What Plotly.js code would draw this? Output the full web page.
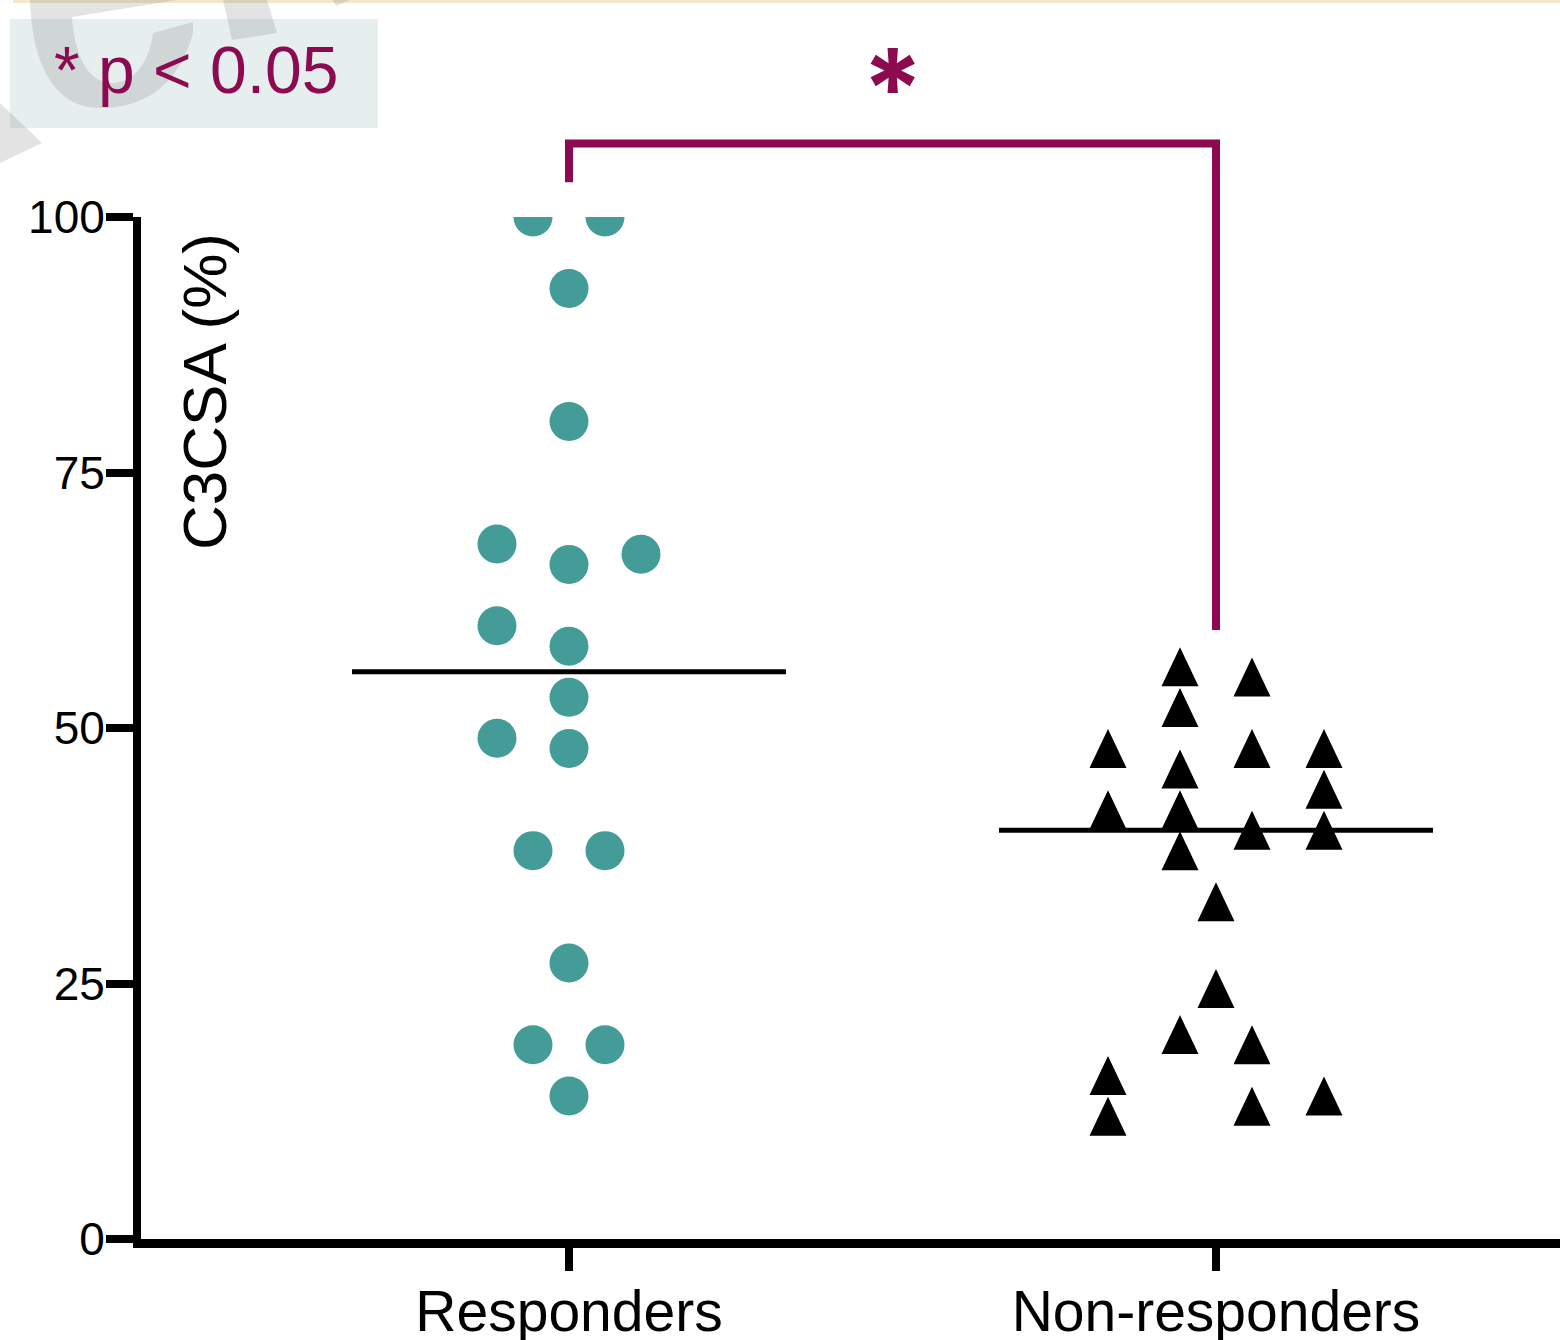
<!DOCTYPE html>
<html>
<head>
<meta charset="utf-8">
<script src="https://cdn.plot.ly/plotly-3.0.1.min.js"></script>
<style>
  html, body { margin: 0; padding: 0; background: #ffffff; }
  #chart { width: 1560px; height: 1340px; }
</style>
</head>
<body>
<div id="chart"></div>
<script>
// Groups on the category axis
const groups = ['Responders', 'Non-responders'];
const groupPos = [1, 2];

// C3CSA (%) per patient
const responders = [100, 100, 93, 80, 68, 66, 67, 60, 58, 53, 49, 48, 38, 38, 27, 19, 19, 14];
const nonResponders = [56, 55, 52, 48, 48, 48, 46, 44, 42, 42, 40, 40, 38, 33, 24.5, 20, 19, 16, 14, 13, 12];

// Column slot of each point inside its group (spread of the dot plot)
const respSlot = [-1, 1, 0, 0, -2, 0, 2, -2, 0, 0, -2, 0, -1, 1, 0, -1, 1, 0];
const nonSlot = [-1, 1, -1, -3, 1, 3, -1, 3, -3, -1, 1, 3, -1, 0, 0, -1, 1, -3, 3, 1, -3];

// Axis ticks and texts
const yTicks = [0, 25, 50, 75, 100];
const yRange = [0, 100];
const yTitle = 'C3CSA (%)';
const sigLabel = '*';
const noteLabel = '* p < 0.05';

// Significance bracket levels (y units)
const bracketTop = 107.2;
const bracketLeftFoot = 103.4;
const bracketRightFoot = 59.6;

// ---- geometry & style ----
const FIG_W = 1560, FIG_H = 1340;
const M = { l: 141, r: 0, t: 217, b: 101 };
const PW = FIG_W - M.l - M.r;
const PH = FIG_H - M.t - M.b;
const xRange = [0.3385, 2.5317];
const xPerPx = (xRange[1] - xRange[0]) / PW;
const yPerPx = (yRange[1] - yRange[0]) / PH;

const SLOT_PX = 36;          // spacing between dot columns
const MEDIAN_HALF_PX = 217;  // half length of the median bar
const TRI_W_PX = 37, TRI_H_PX = 39;
const TEAL = '#439c98';
const PLUM = '#8b0a50';
const FONT = 'Liberation Sans, Arial, sans-serif';

function median(arr) {
  const s = arr.slice().sort((a, b) => a - b);
  const n = s.length;
  return n % 2 ? s[(n - 1) / 2] : (s[n / 2 - 1] + s[n / 2]) / 2;
}
const px2px = p => (p - M.l) / PW;          // pixel x -> paper x
const py2py = p => (FIG_H - M.b - p) / PH;  // pixel y -> paper y
const yToPaper = v => (v - yRange[0]) / (yRange[1] - yRange[0]);

// Build an SVG path (paper units) from pixel segments
function pxPath(segs) {
  return segs.map(s => {
    const cmd = s[0];
    if (cmd === 'Z') return 'Z';
    const pts = s.slice(1).map(p => px2px(p[0]).toFixed(5) + ',' + py2py(p[1]).toFixed(5));
    return cmd + pts.join(' ');
  }).join(' ');
}

// Responders: filled circles
const respX = responders.map((v, i) => groupPos[0] + respSlot[i] * SLOT_PX * xPerPx);
const respTrace = {
  type: 'scatter', mode: 'markers',
  x: respX, y: responders,
  marker: { symbol: 'circle', size: 39, color: TEAL, line: { width: 0 } },
  hoverinfo: 'y', showlegend: false
};

// Non-responders: filled upward triangles, one closed polygon per patient
const hw = TRI_W_PX / 2 * xPerPx, hh = TRI_H_PX / 2 * yPerPx;
const triX = [], triY = [];
nonResponders.forEach((v, i) => {
  const cx = groupPos[1] + nonSlot[i] * SLOT_PX * xPerPx;
  triX.push(cx - hw, cx, cx + hw, cx - hw, null);
  triY.push(v - hh, v + hh, v - hh, v - hh, null);
});
const nonTrace = {
  type: 'scatter', mode: 'lines',
  x: triX, y: triY,
  fill: 'toself', fillcolor: '#000000',
  line: { width: 0, color: '#000000' },
  hoverinfo: 'skip', showlegend: false
};

// Median bars
const medHalf = MEDIAN_HALF_PX * xPerPx;
const medTraces = [responders, nonResponders].map((vals, g) => {
  const m = median(vals);
  return {
    type: 'scatter', mode: 'lines',
    x: [groupPos[g] - medHalf, groupPos[g] + medHalf], y: [m, m],
    line: { color: '#000000', width: 5 },
    hoverinfo: 'skip', showlegend: false
  };
});

const WM = 'rgba(128,128,128,0.22)';
const shapes = [
  // thin band along the top edge
  { type: 'rect', xref: 'paper', yref: 'paper', layer: 'above',
    x0: px2px(13), x1: px2px(FIG_W), y0: py2py(0), y1: py2py(3),
    fillcolor: '#f3e7cc', line: { width: 0 } },
  // note box
  { type: 'rect', xref: 'paper', yref: 'paper', layer: 'above',
    x0: px2px(10), x1: px2px(378), y0: py2py(128), y1: py2py(19),
    fillcolor: '#e6efee', line: { width: 0 } },
  // faint logo marks in the corner
  { type: 'path', xref: 'paper', yref: 'paper', layer: 'above',
    path: pxPath([['M', [30, 0]], ['L', [177, 0]], ['L', [72, 17]],
      ['C', [75, 60], [90, 83], [112, 83]], ['C', [135, 83], [150, 60], [153, 33]],
      ['L', [193, 22]], ['L', [193, 33]],
      ['C', [180, 80], [150, 108], [100, 108]], ['C', [55, 108], [32, 65], [30, 0]], ['Z']]),
    fillcolor: WM, line: { width: 0 } },
  { type: 'path', xref: 'paper', yref: 'paper', layer: 'above',
    path: pxPath([['M', [223, 0]], ['L', [267, 0]], ['L', [277, 33]], ['L', [232, 40]], ['Z']]),
    fillcolor: WM, line: { width: 0 } },
  { type: 'path', xref: 'paper', yref: 'paper', layer: 'above',
    path: pxPath([['M', [333, 0]], ['L', [350, 0]], ['L', [336, 6]], ['Z']]),
    fillcolor: WM, line: { width: 0 } },
  { type: 'path', xref: 'paper', yref: 'paper', layer: 'above',
    path: pxPath([['M', [0, 103]], ['L', [42, 143]], ['L', [0, 163]], ['Z']]),
    fillcolor: WM, line: { width: 0 } },
  // significance bracket
  { type: 'path', xref: 'x', yref: 'paper', layer: 'above',
    path: 'M' + groupPos[0] + ',' + yToPaper(bracketLeftFoot) +
          ' L' + groupPos[0] + ',' + yToPaper(bracketTop) +
          ' L' + groupPos[1] + ',' + yToPaper(bracketTop) +
          ' L' + groupPos[1] + ',' + yToPaper(bracketRightFoot),
    line: { color: PLUM, width: 8 } }
];

const annotations = [
  { text: noteLabel, xref: 'paper', yref: 'paper', showarrow: false,
    x: px2px(196), y: py2py(70), xanchor: 'center', yanchor: 'middle',
    font: { family: FONT, size: 66, color: PLUM } },
  { text: sigLabel, xref: 'paper', yref: 'paper', showarrow: false,
    x: px2px(893), y: py2py(88), xanchor: 'center', yanchor: 'middle',
    font: { family: 'Inter, DejaVu Sans, sans-serif', size: 110, color: PLUM, weight: 'bold' } },
  { text: yTitle, xref: 'paper', yref: 'paper', showarrow: false, textangle: -90,
    x: px2px(204), y: py2py(392), xanchor: 'center', yanchor: 'middle',
    font: { family: FONT, size: 62, color: '#000000' } }
];

const layout = {
  width: FIG_W, height: FIG_H,
  margin: M,
  paper_bgcolor: '#ffffff', plot_bgcolor: '#ffffff',
  showlegend: false,
  xaxis: {
    range: xRange, fixedrange: true,
    tickmode: 'array', tickvals: groupPos, ticktext: groups,
    ticks: 'outside', ticklen: 23, tickwidth: 8, tickcolor: '#000000',
    ticklabelstandoff: -8,
    showline: true, linewidth: 9, linecolor: '#000000',
    showgrid: false, zeroline: false,
    tickfont: { family: FONT, size: 57, color: '#000000' }
  },
  yaxis: {
    range: yRange, fixedrange: true,
    tickmode: 'array', tickvals: yTicks,
    ticks: 'outside', ticklen: 27, tickwidth: 8, tickcolor: '#000000',
    ticklabelstandoff: -8,
    showline: true, linewidth: 8, linecolor: '#000000',
    showgrid: false, zeroline: false,
    tickfont: { family: FONT, size: 46, color: '#000000' }
  },
  shapes: shapes,
  annotations: annotations
};

Plotly.newPlot('chart', [respTrace, nonTrace, ...medTraces], layout,
  { displayModeBar: false, staticPlot: true });
</script>
</body>
</html>
